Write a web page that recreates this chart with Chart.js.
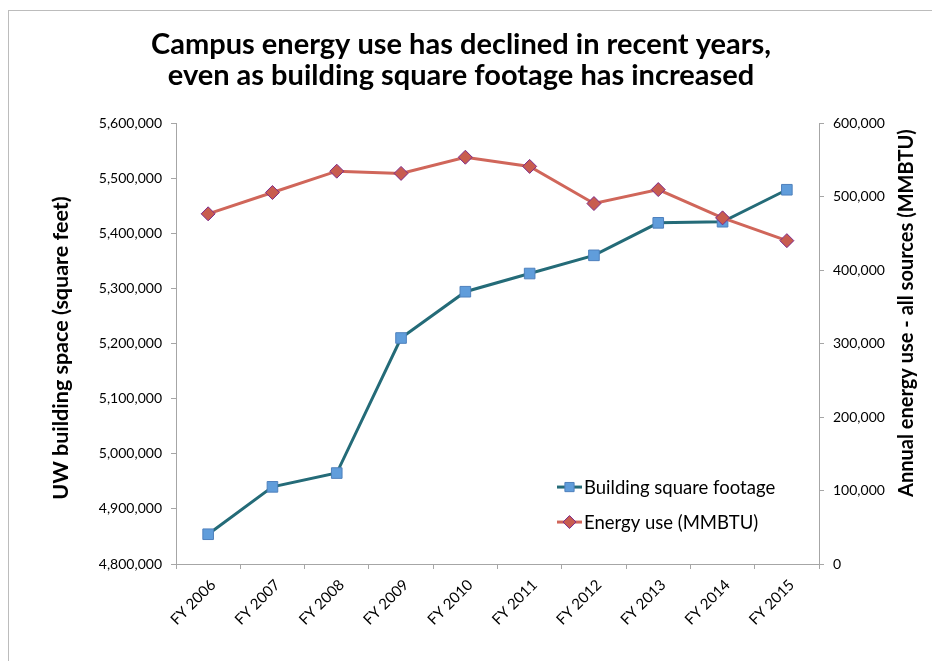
<!DOCTYPE html>
<html lang="en">
<head>
    <meta charset="UTF-8">
    <title>Campus energy use</title>
    <script src="https://cdn.jsdelivr.net/npm/chart.js"></script>
    <style>
        html, body { margin: 0; padding: 0; background: #fff; overflow: hidden; }
        #frame { position: absolute; left: 8px; top: 10px; width: 1000px; height: 1000px; border: 1px solid #bcbcbc; }
        #wrap { position: absolute; left: 0; top: 0; width: 932px; height: 661px; }
    </style>
</head>
<body>
    <div id="frame"></div>
    <div id="wrap"><canvas id="energyChart" width="932" height="661"></canvas></div>

    <script>
        // data
        const years = ['FY 2006', 'FY 2007', 'FY 2008', 'FY 2009', 'FY 2010', 'FY 2011', 'FY 2012', 'FY 2013', 'FY 2014', 'FY 2015'];
        const buildingSqFt = [4854000, 4940000, 4965000, 5210000, 5294000, 5327000, 5360000, 5419000, 5421000, 5479000];
        const energyUse = [476500, 505500, 534500, 531500, 553500, 541000, 490500, 509500, 471000, 440000];

        const leftMin = 4800000, leftMax = 5600000, leftStep = 100000;
        const rightMin = 0, rightMax = 600000, rightStep = 100000;

        const titleLines = ['Campus energy use has declined in recent years,', 'even as building square footage has increased'];
        const leftTitle = 'UW building space (square feet)';
        const rightTitle = 'Annual energy use - all sources (MMBTU)';
        const seriesNames = ['Building square footage', 'Energy use (MMBTU)'];

        const FONT = 'Lato, "Open Sans", sans-serif';
        const axisGray = '#a6a6a6';
        const teal = '#246b78';
        const blueFill = '#609ddb';
        const blueEdge = '#4f81bd';
        const salmon = '#d0665a';
        const redFill = '#c85c4f';
        const purpleEdge = '#7d2a8a';

        // axis titles and legend drawn by hand (Excel puts the legend inside the plot)
        const extras = {
            id: 'extras',
            afterDraw(chart) {
                const ctx = chart.ctx;
                const a = chart.chartArea;
                ctx.save();
                ctx.fillStyle = '#000';
                ctx.textAlign = 'center';
                ctx.textBaseline = 'middle';

                ctx.save();
                ctx.font = 'bold 21.5px ' + FONT;
                ctx.translate(61, a.top + 225);
                ctx.rotate(-Math.PI / 2);
                ctx.fillText(leftTitle, 0, 0);
                ctx.restore();

                ctx.save();
                ctx.font = 'bold 20px ' + FONT;
                ctx.translate(907, a.top + 190);
                ctx.rotate(-Math.PI / 2);
                ctx.fillText(rightTitle, 0, 0);
                ctx.restore();

                // legend
                const items = [
                    { name: seriesNames[0], line: teal, fill: blueFill, edge: blueEdge, style: 'rect' },
                    { name: seriesNames[1], line: salmon, fill: redFill, edge: purpleEdge, style: 'rectRot' }
                ];
                ctx.font = '18.5px ' + FONT;
                ctx.textAlign = 'left';
                items.forEach((it, i) => {
                    const y = a.top + 364 + i * 35;
                    const x0 = a.left + 381;
                    ctx.strokeStyle = it.line;
                    ctx.lineWidth = 3;
                    ctx.beginPath();
                    ctx.moveTo(x0, y);
                    ctx.lineTo(x0 + 25, y);
                    ctx.stroke();
                    ctx.fillStyle = it.fill;
                    ctx.strokeStyle = it.edge;
                    ctx.lineWidth = 1;
                    Chart.helpers.drawPoint(ctx, { pointStyle: it.style, radius: 6.5, rotation: 0, borderWidth: 1 }, x0 + 12.5, y);
                    ctx.fillStyle = '#000';
                    ctx.fillText(it.name, x0 + 27, y + 1);
                });
                ctx.restore();
            }
        };

        const ctx = document.getElementById('energyChart').getContext('2d');
        new Chart(ctx, {
            type: 'line',
            data: {
                labels: years,
                datasets: [
                    {
                        label: seriesNames[1],
                        data: energyUse,
                        yAxisID: 'yRight',
                        borderColor: salmon,
                        borderWidth: 3,
                        pointStyle: 'rectRot',
                        pointRadius: 7,
                        pointBackgroundColor: redFill,
                        pointBorderColor: purpleEdge,
                        pointBorderWidth: 1,
                        tension: 0,
                        order: 0
                    },
                    {
                        label: seriesNames[0],
                        data: buildingSqFt,
                        yAxisID: 'yLeft',
                        borderColor: teal,
                        borderWidth: 3,
                        pointStyle: 'rect',
                        pointRadius: 7.5,
                        pointBackgroundColor: blueFill,
                        pointBorderColor: blueEdge,
                        pointBorderWidth: 1,
                        tension: 0,
                        order: 1
                    }
                ]
            },
            options: {
                responsive: false,
                animation: false,
                layout: { padding: { left: 0, right: 10, top: 0, bottom: 0 } },
                plugins: {
                    legend: { display: false },
                    tooltip: { enabled: false },
                    title: {
                        display: true,
                        text: titleLines,
                        color: '#000',
                        font: { family: FONT, size: 29, weight: 'bold', lineHeight: 1.07 },
                        padding: { top: 29, bottom: 32 }
                    }
                },
                scales: {
                    x: {
                        offset: true,
                        grid: { offset: true, drawOnChartArea: false, drawTicks: true, tickLength: 5, color: axisGray },
                        border: { display: true, color: axisGray },
                        ticks: { minRotation: 45, maxRotation: 45, color: '#000', padding: 7, labelOffset: 5, font: { family: FONT, size: 15 } },
                        afterFit(scale) { scale.height = 97; }
                    },
                    yLeft: {
                        position: 'left',
                        min: leftMin,
                        max: leftMax,
                        grid: { drawOnChartArea: false, tickLength: 5, color: axisGray },
                        border: { display: true, color: axisGray },
                        ticks: {
                            stepSize: leftStep,
                            color: '#000',
                            padding: 9,
                            font: { family: FONT, size: 14 },
                            callback: v => v.toLocaleString('en-US')
                        },
                        afterFit(scale) { scale.width = 176; }
                    },
                    yRight: {
                        position: 'right',
                        min: rightMin,
                        max: rightMax,
                        grid: { drawOnChartArea: false, tickLength: 5, color: axisGray },
                        border: { display: true, color: axisGray },
                        ticks: {
                            stepSize: rightStep,
                            color: '#000',
                            padding: 9,
                            font: { family: FONT, size: 14 },
                            callback: v => v.toLocaleString('en-US')
                        },
                        afterFit(scale) { scale.width = 103; }
                    }
                }
            },
            plugins: [extras]
        });
    </script>
</body>
</html>
